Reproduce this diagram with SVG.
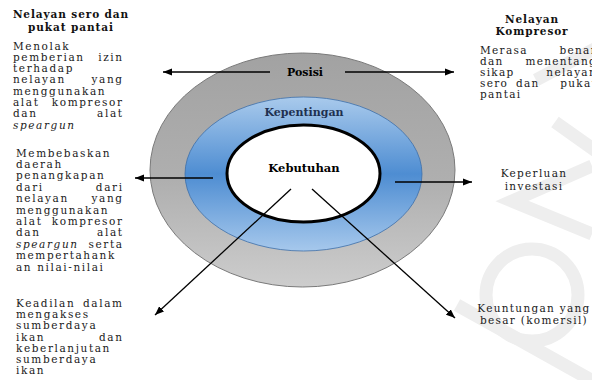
<svg xmlns="http://www.w3.org/2000/svg" width="592" height="380" viewBox="0 0 592 380">
<style>
.t{font-family:"DejaVu Serif","Liberation Serif",serif;font-size:10.5px;fill:#1a1a1a;letter-spacing:1.6px}
.r{font-family:"DejaVu Serif","Liberation Serif",serif;font-size:10.5px;fill:#1a1a1a;letter-spacing:1.3px}
.h{font-family:"DejaVu Serif","Liberation Serif",serif;font-size:10.5px;font-weight:bold;fill:#111;letter-spacing:0.9px;text-anchor:middle}
.c{font-family:"DejaVu Serif","Liberation Serif",serif;font-weight:bold;text-anchor:middle}
.e{text-anchor:end}
.m{text-anchor:middle}
.i{font-style:italic}
.w{fill:none;stroke:#eeeeee;stroke-width:13}
.a{fill:none;stroke:#000;stroke-width:1.3;marker-end:url(#ah)}
</style>
<defs>
<marker id="ah" viewBox="0 0 10 8" markerWidth="9" markerHeight="7.2" refX="10" refY="4" orient="auto" markerUnits="userSpaceOnUse">
<path d="M0,0 L10,4 L0,8 z" fill="#000"/>
</marker>
<linearGradient id="gGray" x1="0" y1="0" x2="0" y2="1">
<stop offset="0" stop-color="#a2a2a2"/>
<stop offset="0.55" stop-color="#afafaf"/>
<stop offset="1" stop-color="#cdcdcd"/>
</linearGradient>
<linearGradient id="gBlue" x1="0" y1="0" x2="0" y2="1">
<stop offset="0" stop-color="#a9caec"/>
<stop offset="0.5" stop-color="#4e8dd2"/>
<stop offset="1" stop-color="#a6c8ec"/>
</linearGradient>
</defs>
<rect width="592" height="380" fill="#fff"/>
<g id="watermark">
<path class="w" d="M536,80 L600,46"/>
<path class="w" d="M555,122 L600,154"/>
<path class="w" d="M592,166 L512,201 L592,234"/>
<circle class="w" cx="532" cy="295" r="46"/>
<path class="w" d="M457,305 L600,385"/>
</g>
<g id="posisi">
<ellipse cx="302.5" cy="170" rx="152.5" ry="117" fill="url(#gGray)" stroke="#7a7a7a" stroke-width="1"/>
<text class="c" x="305" y="75.5" font-size="11" fill="#000">Posisi</text>
</g>
<g id="kepentingan">
<ellipse cx="303.5" cy="174" rx="118.5" ry="77" fill="url(#gBlue)" stroke="#3d6ea8" stroke-width="0.8"/>
<text class="c" x="304" y="116" font-size="11" fill="#1f3050">Kepentingan</text>
</g>
<g id="kebutuhan">
<ellipse cx="303.5" cy="173.5" rx="76.5" ry="48.5" fill="#fff" stroke="#000" stroke-width="3"/>
<text class="c" x="304" y="172" font-size="11.5" fill="#000">Kebutuhan</text>
</g>
<g id="connectors">
<line class="a" x1="270" y1="72" x2="163" y2="72"/>
<line class="a" x1="345" y1="72" x2="454" y2="72"/>
<line class="a" x1="213" y1="178" x2="135" y2="178"/>
<line class="a" x1="395" y1="182" x2="472" y2="182"/>
<line class="a" x1="291" y1="189" x2="155" y2="315"/>
<line class="a" x1="312" y1="189" x2="455" y2="318"/>
</g>
<g id="nelayan-sero">
<text class="h" x="71" y="17.5">Nelayan sero dan</text>
<text class="h" x="71" y="30.5">pukat pantai</text>
<text class="t" x="13" y="49.5">Menolak</text>
<text class="t" x="13" y="60.8">pemberian</text><text class="t e" x="123.6" y="60.8">izin</text>
<text class="t" x="13" y="72.1">terhadap</text>
<text class="t" x="13" y="83.4">nelayan</text><text class="t e" x="123.6" y="83.4">yang</text>
<text class="t" x="13" y="94.7">menggunakan</text>
<text class="t" x="13" y="106">alat</text><text class="t e" x="123.6" y="106">kompresor</text>
<text class="t" x="13" y="117.3">dan</text><text class="t e" x="123.6" y="117.3">alat</text>
<text class="t i" x="13" y="128.6">speargun</text>
</g>
<g id="membebaskan">
<text class="t" x="16" y="156.5">Membebaskan</text>
<text class="t" x="16" y="167.9">daerah</text>
<text class="t" x="16" y="179.3">penangkapan</text>
<text class="t" x="16" y="190.7">dari</text><text class="t e" x="123.6" y="190.7">dari</text>
<text class="t" x="16" y="202.1">nelayan</text><text class="t e" x="123.6" y="202.1">yang</text>
<text class="t" x="16" y="213.5">menggunakan</text>
<text class="t" x="16" y="224.9">alat</text><text class="t e" x="123.6" y="224.9">kompresor</text>
<text class="t" x="16" y="236.3">dan</text><text class="t e" x="123.6" y="236.3">alat</text>
<text class="t i" x="16" y="247.7">speargun</text><text class="t e" x="123.6" y="247.7">serta</text>
<text class="t" x="16" y="259.1">mempertahank</text>
<text class="t" x="16" y="270.5">an nilai-nilai</text>
</g>
<g id="keadilan">
<text class="t" x="16" y="307">Keadilan</text><text class="t e" x="123.6" y="307">dalam</text>
<text class="t" x="16" y="318.2">mengakses</text>
<text class="t" x="16" y="329.3">sumberdaya</text>
<text class="t" x="16" y="340.5">ikan</text><text class="t e" x="123.6" y="340.5">dan</text>
<text class="t" x="16" y="351.6">keberlanjutan</text>
<text class="t" x="16" y="362.8">sumberdaya</text>
<text class="t" x="16" y="373.9">ikan</text>
</g>
<g id="nelayan-kompresor">
<text class="h" x="532" y="22.5">Nelayan</text>
<text class="h" x="532" y="34.5">Kompresor</text>
<text class="r" x="480" y="54.3">Merasa</text><text class="r e" x="597" y="54.3">benar</text>
<text class="r" x="480" y="65.3">dan</text><text class="r e" x="597" y="65.3">menentang</text>
<text class="r" x="480" y="76.3">sikap</text><text class="r e" x="597" y="76.3">nelayan</text>
<text class="r" x="480" y="87.3">sero</text><text class="r" x="516" y="87.3">dan</text><text class="r e" x="597" y="87.3">pukat</text>
<text class="r" x="480" y="98.3">pantai</text>
</g>
<g id="keperluan">
<text class="r m" x="534" y="177">Keperluan</text>
<text class="r m" x="534" y="189.5">investasi</text>
</g>
<g id="keuntungan">
<text class="r m" x="534" y="311.5">Keuntungan yang</text>
<text class="r m" x="534" y="324">besar (komersil)</text>
</g>
</svg>
